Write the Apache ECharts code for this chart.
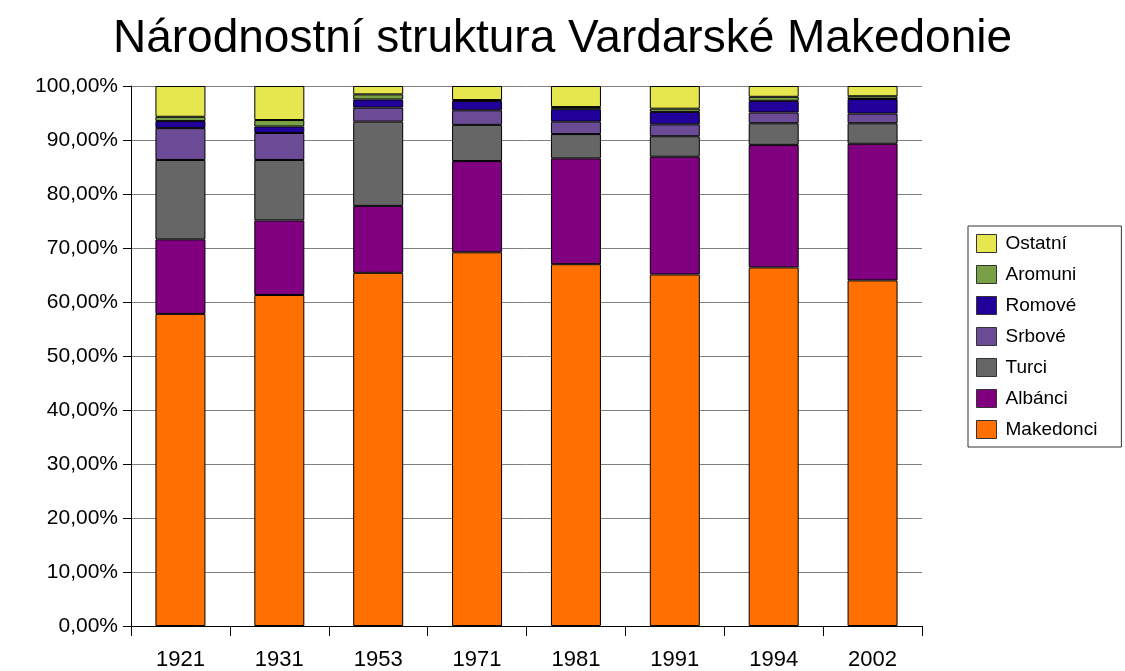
<!DOCTYPE html>
<html>
<head>
<meta charset="utf-8">
<script src="https://cdn.jsdelivr.net/npm/echarts@6/dist/echarts.min.js"></script>
<style>html,body{margin:0;padding:0;background:#fff;}#c{width:1125px;height:671px;}</style>
</head>
<body>
<div id="c"></div>
<script>
const years = ['1921','1931','1953','1971','1981','1991','1994','2002'];
const makedonci = [57.8, 61.3, 65.4, 69.2, 67.0, 65.1, 66.4, 64.0];
const albanci   = [13.8, 13.8, 12.4, 16.9, 19.6, 21.8, 22.7, 25.3];
const turci     = [14.7, 11.2, 15.6, 6.7, 4.5, 3.8, 4.0, 3.8];
const srbove    = [5.9, 5.0, 2.6, 2.7, 2.3, 2.2, 2.0, 1.8];
const romove    = [1.3, 1.2, 1.5, 1.7, 2.3, 2.3, 2.15, 2.7];
const aromuni   = [0.8, 1.2, 0.95, 0.2, 0.4, 0.6, 0.75, 0.5];
const ostatni   = [5.7, 6.3, 1.55, 2.6, 3.9, 4.2, 2.0, 1.9];
const names = ['Makedonci','Albánci','Turci','Srbové','Romové','Aromuni','Ostatní'];
const values = [makedonci, albanci, turci, srbove, romove, aromuni, ostatni];
const colors = ['#FF7000','#800080','#666666','#6B4A96','#22009A','#78A046','#E6E64E'];

const font = '"Liberation Sans", Arial, sans-serif';
const chart = echarts.init(document.getElementById('c'), null, {renderer:'canvas'});
chart.setOption({
  animation: false,
  backgroundColor: '#fff',
  title: {
    text: 'Národnostní struktura Vardarské Makedonie',
    left: 'center', top: 11,
    textStyle: {fontFamily: font, fontSize: 46, fontWeight: 'normal', color: '#000'}
  },
  legend: {
    orient: 'vertical',
    left: 968, top: 226,
    padding: [8, 24, 8, 8],
    borderColor: '#333', borderWidth: 1,
    icon: 'rect',
    itemWidth: 20, itemHeight: 18, itemGap: 12,
    itemStyle: {borderColor: '#333', borderWidth: 1},
    data: names.slice().reverse(),
    textStyle: {fontFamily: font, fontSize: 19, color: '#000', padding: [0,0,0,4]},
    selectedMode: false
  },
  grid: {left: 131, right: 203, top: 86, bottom: 43, containLabel: false},
  xAxis: {
    type: 'category', data: years,
    axisLine: {lineStyle: {color: '#000', width: 1}},
    axisTick: {show: true, length: 10, alignWithLabel: false, lineStyle: {color: '#000'}},
    axisLabel: {fontFamily: font, fontSize: 22, color: '#000', margin: 23}
  },
  yAxis: {
    type: 'value', min: 0, max: 100, interval: 10,
    axisLine: {show: true, lineStyle: {color: '#000', width: 1}},
    axisTick: {show: true, length: 8, lineStyle: {color: '#000'}},
    splitLine: {lineStyle: {color: '#808080', width: 1}},
    axisLabel: {fontFamily: font, fontSize: 21, color: '#000', margin: 13,
      formatter: v => v.toFixed(2).replace('.', ',') + '%'}
  },
  series: names.map((n, i) => ({
    name: n, type: 'bar', stack: 'total', data: values[i],
    barWidth: 50,
    itemStyle: {color: colors[i], borderColor: '#000', borderWidth: 1}
  }))
});
</script>
</body>
</html>
